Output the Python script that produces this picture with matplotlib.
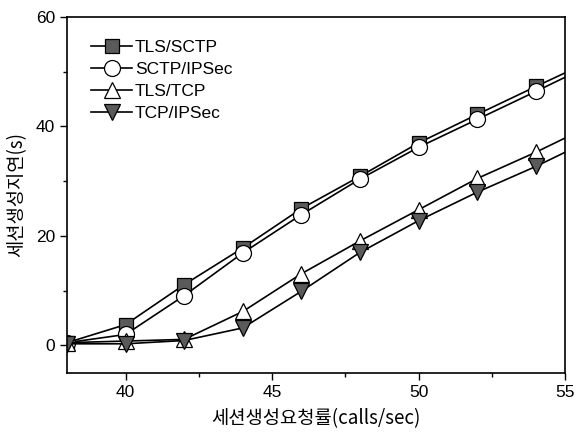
import matplotlib
matplotlib.use("Agg")
import matplotlib.pyplot as plt
from matplotlib.ticker import MultipleLocator

# session request rate (calls/sec); the last point lies past the axis edge
rate = [38, 40, 42, 44, 46, 48, 50, 52, 54, 56]

tls_sctp = [0.5, 3.8, 11.1, 17.8, 25.0, 30.9, 37.0, 42.2, 47.3, 52.3]
sctp_ipsec = [0.5, 2.0, 9.1, 16.9, 23.9, 30.4, 36.2, 41.3, 46.4, 51.6]
tls_tcp = [0.5, 0.8, 1.1, 6.2, 13.1, 19.1, 24.8, 30.5, 35.3, 40.5]
tcp_ipsec = [0.3, 0.3, 0.9, 3.2, 9.9, 17.0, 22.8, 28.0, 32.7, 37.9]

series_names = ["TLS/SCTP", "SCTP/IPSec", "TLS/TCP", "TCP/IPSec"]

x_label = "세션생성요청률(calls/sec)"
y_label = "세션생성지연(s)"

plt.rcParams["font.family"] = ["Liberation Sans", "DejaVu Sans"]

fig = plt.figure(figsize=(5.87, 4.34), dpi=100)
ax = fig.add_axes([0.114, 0.141, 0.849, 0.820])

styles = [
    dict(marker="s", markersize=9.5, markerfacecolor="#5a5a5a"),
    dict(marker="o", markersize=11.5, markerfacecolor="white"),
    dict(marker="^", markersize=12, markerfacecolor="white"),
    dict(marker="v", markersize=12, markerfacecolor="#5a5a5a"),
]

for values, name, st in zip([tls_sctp, sctp_ipsec, tls_tcp, tcp_ipsec], series_names, styles):
    ax.plot(rate, values, color="black", linewidth=1.2, markeredgecolor="black",
            markeredgewidth=0.9, label=name, clip_on=True, **st)

ax.set_xlim(38, 55)
ax.set_ylim(-5, 60)
ax.xaxis.set_major_locator(MultipleLocator(5))
ax.xaxis.set_minor_locator(MultipleLocator(2.5))
ax.yaxis.set_major_locator(MultipleLocator(20))
ax.yaxis.set_minor_locator(MultipleLocator(10))
ax.tick_params(which="major", direction="out", length=5, width=1, labelsize=12.5)
ax.tick_params(which="minor", direction="out", length=3, width=1)

for side in ax.spines.values():
    side.set_linewidth(1.2)

ax.set_xlabel(x_label, fontsize=13.5, family=["Noto Sans CJK KR", "DejaVu Sans"], labelpad=6)
ax.set_ylabel(y_label, fontsize=13.5, family=["Noto Sans CJK KR", "DejaVu Sans"], labelpad=6)

ax.legend(loc="upper left", frameon=False, fontsize=12.5, handlelength=2.4,
          handletextpad=0.15, labelspacing=0.4, borderaxespad=0.4,
          bbox_to_anchor=(0.02, 0.975))

fig.savefig("out.png", dpi=100)
